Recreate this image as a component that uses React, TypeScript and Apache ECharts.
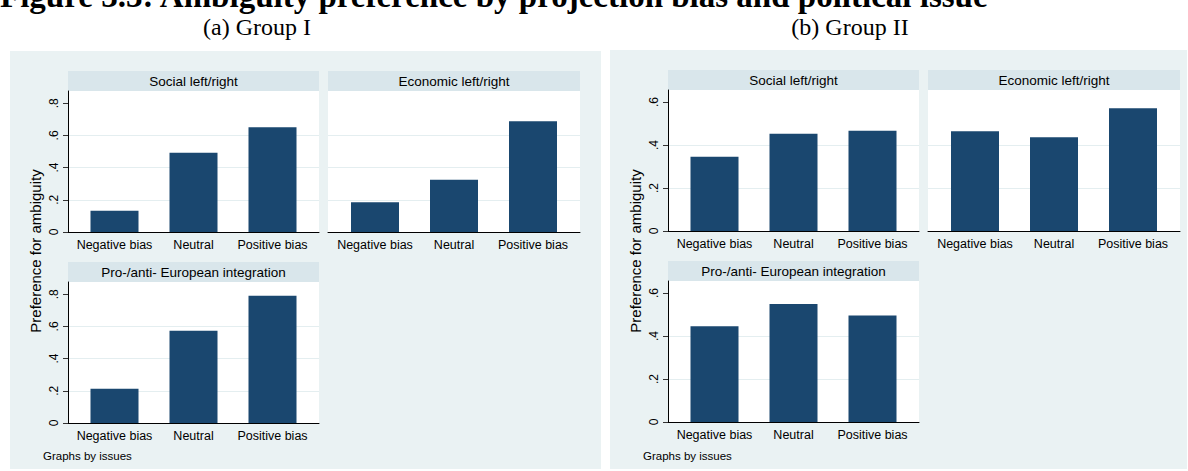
import React, { useEffect, useRef } from 'react';
import * as echarts from 'echarts';

// Categories and facet titles
const categories = ['Negative bias', 'Neutral', 'Positive bias'];
const issues = ['Social left/right', 'Economic left/right', 'Pro-/anti- European integration'];

// Mean preference for ambiguity, Group I
const groupISocial = [0.132, 0.493, 0.651];
const groupIEconomic = [0.185, 0.325, 0.688];
const groupIEuropean = [0.213, 0.573, 0.79];

// Mean preference for ambiguity, Group II
const groupIISocial = [0.345, 0.453, 0.466];
const groupIIEconomic = [0.464, 0.436, 0.571];
const groupIIEuropean = [0.446, 0.549, 0.496];

// Y-axis ticks and ranges
const groupITicks = [0, 0.2, 0.4, 0.6, 0.8];
const groupIITicks = [0, 0.2, 0.4, 0.6];
const groupIMax = 0.876;
const groupIIMax = 0.656;

const NAVY = '#1a476f';
const PANEL = '#eaf2f3';
const STRIP = '#d9e6eb';
const GRIDLINE = '#e4eef0';
const FONT = '"Liberation Sans", Arial, sans-serif';
const SERIF = '"Liberation Serif", "Times New Roman", serif';

const tickText = (v: number) => (v === 0 ? '0' : v.toFixed(1).replace(/^0/, ''));

function buildOption() {
  const groups = [
    {
      x: 10, w: 591, top: 51, label: '(a) Group I', labelX: 257,
      rows: [91, 282], max: groupIMax, ticks: groupITicks,
      data: [groupISocial, groupIEconomic, groupIEuropean],
    },
    {
      x: 610, w: 577, top: 50, label: '(b) Group II', labelX: 850,
      rows: [90, 281], max: groupIIMax, ticks: groupIITicks,
      data: [groupIISocial, groupIIEconomic, groupIIEuropean],
    },
  ];
  const PLOT_H = 141;
  const BAND_W = 237;

  const grid: any[] = [];
  const xAxis: any[] = [];
  const yAxis: any[] = [];
  const series: any[] = [];
  const graphic: any[] = [];

  graphic.push({
    type: 'text', x: 0, y: -3.6, silent: true,
    style: {
      text: 'Figure 3.3: Ambiguity preference by projection bias and political issue',
      font: `bold 33px ${SERIF}`, fill: '#000', align: 'left', verticalAlign: 'middle',
    },
  });

  groups.forEach((g) => {
    graphic.push({
      type: 'rect', z: -10, silent: true,
      shape: { x: g.x, y: g.top, width: g.w, height: 469 - g.top },
      style: { fill: PANEL },
    });
    graphic.push({
      type: 'text', x: g.labelX, y: 27, silent: true,
      style: { text: g.label, font: `24px ${SERIF}`, fill: '#000', align: 'center', verticalAlign: 'middle' },
    });
    graphic.push({
      type: 'text', x: g.x + 25, y: 251, rotation: Math.PI / 2, silent: true,
      style: { text: 'Preference for ambiguity', font: `15px ${FONT}`, fill: '#000', align: 'center', verticalAlign: 'middle' },
    });
    graphic.push({
      type: 'text', x: g.x + 33, y: 456, silent: true,
      style: { text: 'Graphs by issues', font: `11.5px ${FONT}`, fill: '#000', align: 'left', verticalAlign: 'middle' },
    });

    g.data.forEach((values, i) => {
      const col = i % 2;
      const row = Math.floor(i / 2);
      const left = g.x + 58 + col * 260;
      const width = col === 0 ? 251 : 252;
      const top = g.rows[row];
      const a = grid.length;
      const b = a + 1;
      const showY = col === 0;

      // facet strip
      graphic.push({
        type: 'rect', silent: true,
        shape: { x: left, y: top - 20, width, height: 20 },
        style: { fill: STRIP },
      });
      graphic.push({
        type: 'text', x: left + width / 2, y: top - 10, silent: true,
        style: { text: issues[i], font: `13.5px ${FONT}`, fill: '#000', align: 'center', verticalAlign: 'middle' },
      });

      // plot region with axes
      grid.push({ left, top, width, height: PLOT_H, show: true, backgroundColor: '#fff', borderWidth: 0 });
      // category band for the bars
      grid.push({ left: left + (width - BAND_W) / 2, top, width: BAND_W, height: PLOT_H });

      xAxis.push({
        gridIndex: a, type: 'value', min: 0, max: 1,
        axisLine: { show: true, onZero: false, lineStyle: { color: '#000', width: 1 } },
        axisTick: { show: false }, axisLabel: { show: false }, splitLine: { show: false },
      });
      yAxis.push({
        gridIndex: a, type: 'value', min: 0, max: g.max, interval: 0.2,
        axisLine: { show: showY, onZero: false, lineStyle: { color: '#000', width: 1 } },
        axisTick: { show: showY, length: 5, customValues: g.ticks, lineStyle: { color: '#333' } },
        axisLabel: {
          show: showY, rotate: 90, margin: 8, customValues: g.ticks,
          formatter: tickText, fontSize: 12, color: '#000', fontFamily: FONT,
        },
        splitLine: { show: true, showMaxLine: false, lineStyle: { color: GRIDLINE, width: 1 } },
      });

      xAxis.push({
        gridIndex: b, type: 'category', data: categories,
        axisLine: { show: false }, axisTick: { show: false },
        axisLabel: { interval: 0, margin: 6, fontSize: 12.5, color: '#000', fontFamily: FONT },
        splitLine: { show: false },
      });
      yAxis.push({ gridIndex: b, type: 'value', min: 0, max: g.max, show: false, splitLine: { show: false } });

      series.push({
        type: 'bar', xAxisIndex: b, yAxisIndex: b, data: values, barWidth: 48,
        itemStyle: { color: NAVY }, silent: true,
      });
    });
  });

  return {
    animation: false,
    backgroundColor: '#fff',
    textStyle: { fontFamily: FONT },
    grid, xAxis, yAxis, series, graphic,
  };
}

export default function App() {
  const ref = useRef<HTMLDivElement>(null);
  useEffect(() => {
    if (!ref.current) return;
    const chart = echarts.init(ref.current, undefined, { renderer: 'svg' });
    chart.setOption(buildOption() as any);
    return () => chart.dispose();
  }, []);
  return (
    <div
      ref={ref}
      style={{ position: 'fixed', left: 0, top: 0, width: 1188, height: 471, background: '#fff' }}
    />
  );
}
